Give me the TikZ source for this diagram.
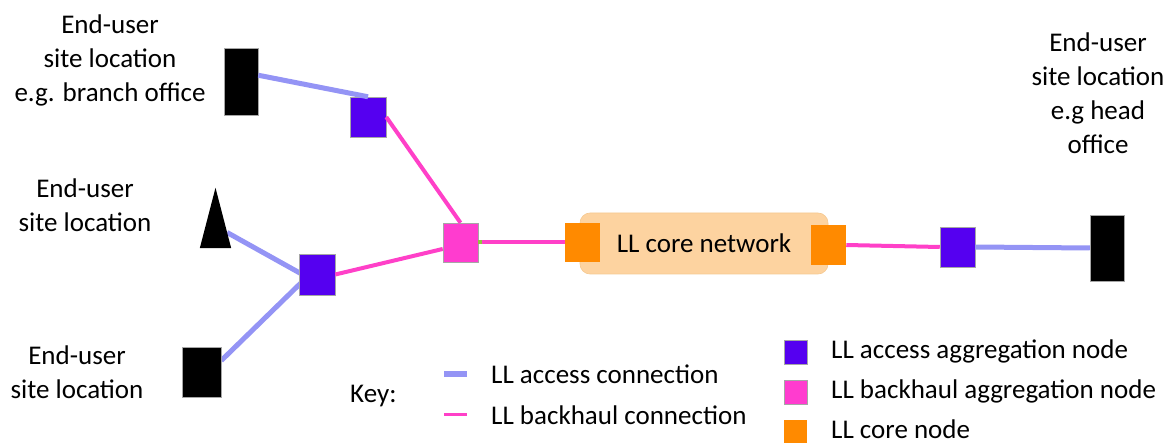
\documentclass[tikz,border=0pt]{standalone}
\usepackage{fontspec}
\setmainfont{Carlito}
\usepackage{xcolor}
\usepackage{tikz}
\usetikzlibrary{calc,backgrounds}
\definecolor{accblue}{HTML}{5500F0}
\definecolor{bhpink}{HTML}{FF3CCF}
\definecolor{coreorange}{HTML}{FF8A00}
\definecolor{corefill}{HTML}{FDD3A0}
\definecolor{corerim}{HTML}{F5C890}
\definecolor{acccol}{HTML}{9494F5}
\definecolor{bhcol}{HTML}{FF40C8}
\definecolor{rim}{HTML}{A6A6A6}
\definecolor{dotgreen}{HTML}{8DC63F}
\tikzset{
  sq/.style={draw=rim, line width=0.5pt, inner sep=0pt, minimum width=35pt, minimum height=40pt},
  accsq/.style={sq, fill=accblue},
  bhsq/.style={sq, fill=bhpink},
  coresq/.style={sq, fill=coreorange, draw=none},
  site/.style={fill=black, draw=rim, line width=0.5pt, inner sep=0pt},
  acc/.style={line width=5pt, draw=acccol},
  bh/.style={line width=4pt, draw=bhcol},
  lab/.style={font=\fontsize{27}{34}\selectfont, align=center, inner sep=0pt},
}

\begin{document}
\begin{tikzpicture}[x=1pt, y=-1pt]
  \useasboundingbox (0,0) rectangle (1169,443);

  % end-user sites
  \node[site, minimum width=34pt, minimum height=67pt] (branch) at (241,81.5) {};
  \node[inner sep=0pt, minimum width=31pt, minimum height=60pt] (site2) at (215.5,218) {};
  \fill (site2.south west) -- (site2.south east) -- (site2.north) -- cycle;
  \node[site, minimum width=39pt, minimum height=50pt] (site3) at (201.5,372) {};
  \node[site, minimum width=34pt, minimum height=66pt] (head) at (1107,248) {};

  \node[lab] (branchlab) at (110,60) {End-user\\site location\\e.g. branch office};
  \node[lab] (site2lab) at (85,205) {End-user\\site location};
  \node[lab] (site3lab) at (77,372) {End-user\\site location};
  \node[lab] (headlab) at (1098,93) {End-user\\site location\\e.g head\\office};

  % aggregation nodes
  \node[accsq, minimum width=36pt] (acc1) at (368,117) {};
  \node[accsq, minimum width=36pt, minimum height=41pt] (acc2) at (317,274.5) {};
  \node[bhsq, minimum height=39pt] (bh) at (460.5,242.5) {};
  \node[accsq] (acc3) at (957.5,247) {};

  % core network
  \node[lab, fill=corefill, draw=corerim, line width=0.6pt, rounded corners=10pt,
        minimum width=248pt, minimum height=61pt] (core) at (704,243.5) {LL core network};
  \node[coresq, minimum height=39pt] (corel) at (582.5,242.5) {};
  \node[coresq] (corer) at (828.5,245) {};

  % connections
  \coordinate (hub) at (307,277);
  \coordinate (site2tip) at ($(site2.north)!0.74!(site2.south east)$);
  \begin{scope}[on background layer]
    \draw[acc] (site2tip) -- (hub);
    \draw[acc] (site3.30) -- (hub);
  \end{scope}
  \draw[acc] (branch.20) -- (acc1.north);
  \draw[bh] (acc1.east) -- (bh.north);
  \draw[bh] (acc2.east) -- (bh.200);
  \draw[bh] (bh.east) -- (corel.west);
  \node[fill=dotgreen, inner sep=0pt, minimum size=4pt] (bhdot) at ([xshift=1.5pt]bh.east) {};
  \draw[bh] (corer.east) -- (acc3.west);
  \draw[acc] (acc3.east) -- (head.west);

  % key
  \node[lab, anchor=base west] (key) at (350,402) {Key:};
  \node[lab, anchor=base west] (keyacc) at (491,383) {LL access connection};
  \node[lab, anchor=base west] (keybh) at (491,424) {LL backhaul connection};
  \draw[acc, line width=6pt] ([xshift=-47pt]keyacc.west) -- ([xshift=-24pt]keyacc.west);
  \draw[bh, line width=3pt] ([xshift=-47pt]keybh.west) -- ([xshift=-24pt]keybh.west);

  \node[accsq, minimum width=23pt, minimum height=24pt] (keyaccsq) at (795.5,352) {};
  \node[bhsq, minimum width=23pt, minimum height=24pt] (keybhsq) at (795.5,392) {};
  \node[coresq, minimum width=23pt, minimum height=24pt] (keycoresq) at (795.5,432) {};
  \node[lab, anchor=base west] (keyaccnode) at (831,358) {LL access aggregation node};
  \node[lab, anchor=base west] (keybhnode) at (831,398) {LL backhaul aggregation node};
  \node[lab, anchor=base west] (keycorenode) at (831,438) {LL core node};
\end{tikzpicture}
\end{document}
